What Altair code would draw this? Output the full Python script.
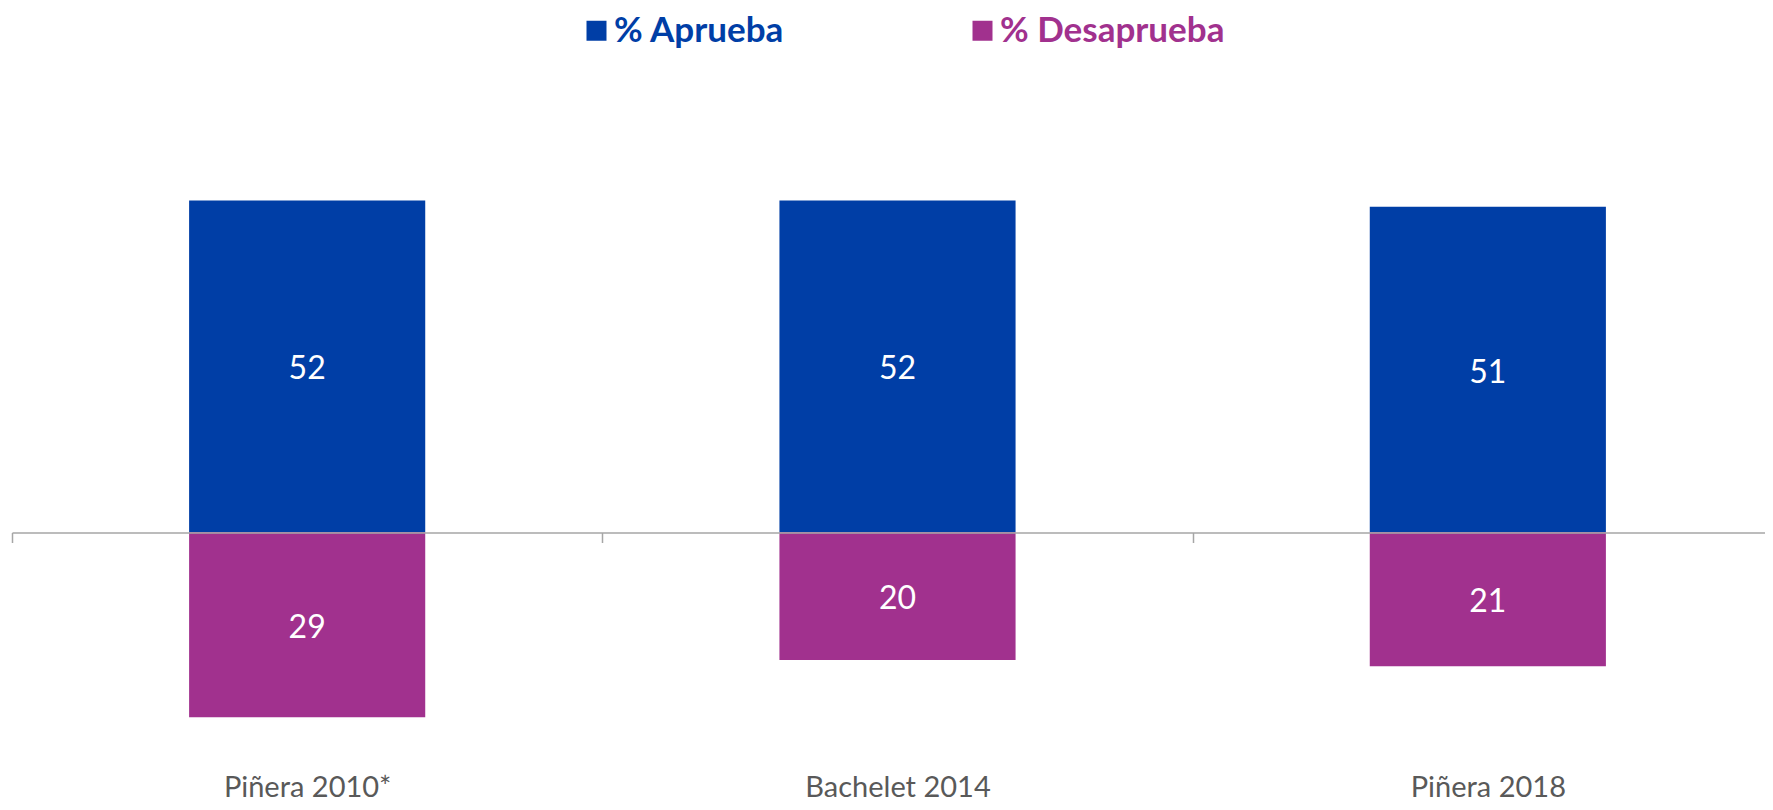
import altair as alt
import pandas as pd

categories = ["Piñera 2010*", "Bachelet 2014", "Piñera 2018"]
aprueba = [52, 52, 51]
desaprueba = [29, 20, 21]
series = ["% Aprueba", "% Desaprueba"]
colors = ["#003EA6", "#A1318E"]

rows = []
for c, a, d in zip(categories, aprueba, desaprueba):
    rows.append({"cat": c, "serie": series[0], "valor": a, "signed": a})
    rows.append({"cat": c, "serie": series[1], "valor": d, "signed": -d})
df = pd.DataFrame(rows)

W, H = 1753, 702
FONT = "Lato"

x_enc = alt.X(
    "cat:N",
    sort=categories,
    title=None,
    scale=alt.Scale(range=[0, 1771], paddingInner=0, paddingOuter=0),
    axis=alt.Axis(
        offset=-229.5,
        domainColor="#A6A6A6",
        domainWidth=1.5,
        tickColor="#A6A6A6",
        tickWidth=1.5,
        tickSize=10,
        tickBand="extent",
        labelAngle=0,
        labelFont=FONT,
        labelFontSize=29,
        labelColor="#595959",
        labelBaseline="alphabetic",
        labelPadding=254,
        labelLimit=400,
        zindex=1,
    ),
)
y_scale = alt.Scale(domain=[-36, 74], nice=False, zero=False)

base = alt.Chart(df)

bars = base.mark_bar(width=alt.RelativeBandSize(0.4)).encode(
    x=x_enc,
    y=alt.Y("signed:Q", scale=y_scale, axis=None, stack=None),
    color=alt.Color(
        "serie:N",
        scale=alt.Scale(domain=series, range=colors),
        legend=alt.Legend(
            title=None,
            orient="none",
            legendX=567,
            legendY=-47,
            direction="horizontal",
            symbolType="square",
            symbolSize=400,
            symbolStrokeWidth=0,
            labelFont=FONT,
            labelFontSize=35,
            labelFontWeight="bold",
            labelColor={"expr": "datum.value === '% Aprueba' ? '#003EA6' : '#A1318E'"},
            labelOffset=0,
            labelLimit=500,
            gridAlign="all",
            columnPadding=126,
        ),
    ),
)

text = base.transform_calculate(mid="datum.signed / 2").mark_text(
    color="white", font=FONT, fontSize=32, baseline="middle", dy=3
).encode(
    x=x_enc,
    y=alt.Y("mid:Q", scale=y_scale, axis=None),
    text="valor:Q",
)

chart = (
    alt.layer(bars, text)
    .properties(
        width=W,
        height=H,
        autosize=alt.AutoSizeParams(type="none"),
        padding={"left": 4, "top": 52, "right": 0, "bottom": 40},
    )
    .configure_view(stroke=None)
)

chart.save("out.html", embed_options={"renderer": "svg", "actions": False})
